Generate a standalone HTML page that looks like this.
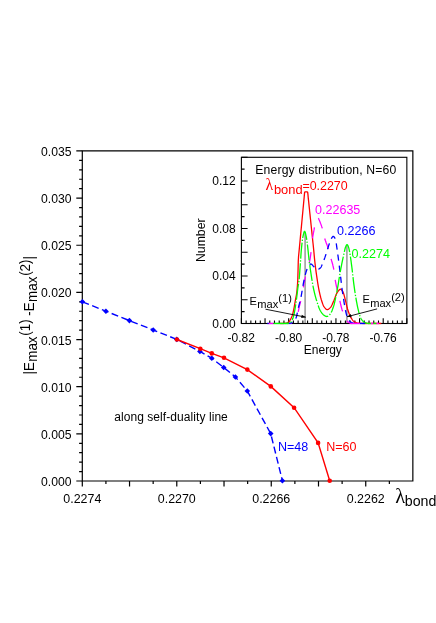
<!DOCTYPE html>
<html><head><meta charset="utf-8"><title>chart</title>
<style>html,body{margin:0;padding:0;background:#fff;}body{width:436px;height:623px;position:relative;overflow:hidden;font-family:"Liberation Sans",sans-serif;}</style>
</head><body>
<svg width="436" height="623" viewBox="0 0 436 623" style="will-change:transform;position:absolute;left:0;top:0;font-family:'Liberation Sans',sans-serif">
<rect width="436" height="623" fill="#fff"/>
<clipPath id="ic"><rect x="241.4" y="157.3" width="165.45000000000002" height="167.2"/></clipPath>
<g clip-path="url(#ic)" fill="none">
<line x1="305.1" y1="232" x2="305.1" y2="323.5" stroke="#989898" stroke-width="1.5"/>
<line x1="346.9" y1="245" x2="346.9" y2="323.5" stroke="#989898" stroke-width="1.5"/>
</g>
<g stroke="#000" stroke-width="1.1" fill="none" stroke-linecap="butt">
<rect x="241.4" y="157.3" width="165.45000000000002" height="166.2"/>
<path d="M241.40,323.5 v-5.2 M246.13,323.5 v-3.0 M250.85,323.5 v-3.0 M255.58,323.5 v-3.0 M260.31,323.5 v-3.0 M265.04,323.5 v-5.2 M269.76,323.5 v-3.0 M274.49,323.5 v-3.0 M279.22,323.5 v-3.0 M283.94,323.5 v-3.0 M288.67,323.5 v-5.2 M293.40,323.5 v-3.0 M298.13,323.5 v-3.0 M302.85,323.5 v-3.0 M307.58,323.5 v-3.0 M312.31,323.5 v-5.2 M317.03,323.5 v-3.0 M321.76,323.5 v-3.0 M326.49,323.5 v-3.0 M331.22,323.5 v-3.0 M335.94,323.5 v-5.2 M340.67,323.5 v-3.0 M345.40,323.5 v-3.0 M350.12,323.5 v-3.0 M354.85,323.5 v-3.0 M359.58,323.5 v-5.2 M364.31,323.5 v-3.0 M369.03,323.5 v-3.0 M373.76,323.5 v-3.0 M378.49,323.5 v-3.0 M383.21,323.5 v-5.2 M387.94,323.5 v-3.0 M392.67,323.5 v-3.0 M397.40,323.5 v-3.0 M402.12,323.5 v-3.0 M406.85,323.5 v-5.2 M241.4,323.50 h6.2 M241.4,311.63 h3.2 M241.4,299.76 h6.2 M241.4,287.89 h3.2 M241.4,276.01 h6.2 M241.4,264.14 h3.2 M241.4,252.27 h6.2 M241.4,240.40 h3.2 M241.4,228.53 h6.2 M241.4,216.66 h3.2 M241.4,204.79 h6.2 M241.4,192.91 h3.2 M241.4,181.04 h6.2 M241.4,169.17 h3.2 M241.4,157.30 h6.2"/>
</g>
<g clip-path="url(#ic)" fill="none">
<path d="M280.00,323.50 L280.25,323.50 L280.51,323.50 L280.76,323.50 L281.02,323.50 L281.27,323.50 L281.52,323.50 L281.78,323.50 L282.03,323.50 L282.28,323.50 L282.54,323.50 L282.79,323.50 L283.05,323.50 L283.30,323.50 L283.55,323.50 L283.81,323.49 L284.06,323.48 L284.32,323.47 L284.57,323.44 L284.82,323.41 L285.08,323.38 L285.33,323.34 L285.59,323.30 L285.84,323.26 L286.09,323.21 L286.35,323.15 L286.60,323.10 L286.85,323.03 L287.11,322.93 L287.36,322.81 L287.62,322.67 L287.87,322.51 L288.12,322.33 L288.38,322.14 L288.63,321.93 L288.89,321.71 L289.14,321.46 L289.39,321.15 L289.65,320.80 L289.90,320.40 L290.16,319.97 L290.41,319.52 L290.66,319.06 L290.92,318.58 L291.17,318.07 L291.42,317.53 L291.68,316.95 L291.93,316.32 L292.19,315.63 L292.44,314.88 L292.69,314.02 L292.95,313.05 L293.20,311.98 L293.46,310.84 L293.71,309.63 L293.96,308.39 L294.22,307.11 L294.47,305.72 L294.73,304.20 L294.98,302.62 L295.23,301.05 L295.49,299.57 L295.74,298.28 L295.99,297.12 L296.25,295.85 L296.50,294.28 L296.76,292.39 L297.01,290.18 L297.26,287.48 L297.52,284.09 L297.77,279.83 L298.03,271.01 L298.28,260.93 L298.53,256.81 L298.79,253.96 L299.04,251.54 L299.30,248.85 L299.55,246.12 L299.80,243.45 L300.06,240.81 L300.31,238.13 L300.56,235.43 L300.82,232.74 L301.07,230.05 L301.33,227.36 L301.58,224.67 L301.83,221.98 L302.09,219.29 L302.34,216.60 L302.60,213.91 L302.85,211.21 L303.10,208.52 L303.36,205.82 L303.61,203.08 L303.87,200.36 L304.12,197.72 L304.37,194.86 L304.63,192.33 L304.88,191.98 L305.13,191.90 L305.39,191.90 L305.64,191.90 L305.90,191.90 L306.15,191.90 L306.40,191.90 L306.66,191.90 L306.91,191.90 L307.17,191.90 L307.42,191.99 L307.67,192.29 L307.93,194.42 L308.18,197.22 L308.44,199.58 L308.69,201.99 L308.94,204.43 L309.20,206.87 L309.45,209.30 L309.70,211.74 L309.96,214.19 L310.21,216.62 L310.47,219.03 L310.72,221.44 L310.97,223.85 L311.23,226.27 L311.48,228.70 L311.74,231.14 L311.99,233.58 L312.24,236.01 L312.50,238.43 L312.75,240.83 L313.01,243.24 L313.26,245.66 L313.51,248.07 L313.77,250.58 L314.02,253.31 L314.27,256.13 L314.53,258.83 L314.78,261.25 L315.04,263.50 L315.29,265.65 L315.54,267.71 L315.80,269.69 L316.05,271.60 L316.31,273.44 L316.56,275.22 L316.81,276.96 L317.07,278.67 L317.32,280.35 L317.57,281.98 L317.83,283.57 L318.08,285.10 L318.34,286.58 L318.59,287.99 L318.84,289.33 L319.10,290.59 L319.35,291.80 L319.61,292.96 L319.86,294.09 L320.11,295.18 L320.37,296.22 L320.62,297.22 L320.88,298.17 L321.13,299.07 L321.38,299.92 L321.64,300.71 L321.89,301.49 L322.14,302.25 L322.40,303.00 L322.65,303.71 L322.91,304.39 L323.16,305.02 L323.41,305.60 L323.67,306.11 L323.92,306.54 L324.18,306.90 L324.43,307.23 L324.68,307.56 L324.94,307.88 L325.19,308.18 L325.45,308.46 L325.70,308.73 L325.95,308.96 L326.21,309.17 L326.46,309.34 L326.71,309.47 L326.97,309.56 L327.22,309.60 L327.48,309.59 L327.73,309.54 L327.98,309.45 L328.24,309.33 L328.49,309.18 L328.75,309.01 L329.00,308.81 L329.25,308.60 L329.51,308.37 L329.76,308.13 L330.02,307.88 L330.27,307.63 L330.52,307.36 L330.78,307.02 L331.03,306.64 L331.28,306.20 L331.54,305.73 L331.79,305.23 L332.05,304.70 L332.30,304.15 L332.55,303.59 L332.81,303.02 L333.06,302.45 L333.32,301.90 L333.57,301.35 L333.82,300.77 L334.08,300.15 L334.33,299.50 L334.59,298.82 L334.84,298.13 L335.09,297.43 L335.35,296.74 L335.60,296.06 L335.85,295.39 L336.11,294.76 L336.36,294.17 L336.62,293.62 L336.87,293.13 L337.12,292.71 L337.38,292.34 L337.63,291.97 L337.89,291.60 L338.14,291.24 L338.39,290.89 L338.65,290.56 L338.90,290.25 L339.16,289.97 L339.41,289.72 L339.66,289.52 L339.92,289.36 L340.17,289.25 L340.42,289.20 L340.68,289.22 L340.93,289.32 L341.19,289.49 L341.44,289.72 L341.69,290.00 L341.95,290.33 L342.20,290.69 L342.46,291.08 L342.71,291.49 L342.96,291.91 L343.22,292.44 L343.47,293.11 L343.73,293.89 L343.98,294.76 L344.23,295.69 L344.49,296.67 L344.74,297.66 L344.99,298.65 L345.25,299.61 L345.50,300.57 L345.76,301.59 L346.01,302.67 L346.26,303.77 L346.52,304.89 L346.77,305.98 L347.03,307.04 L347.28,308.04 L347.53,308.95 L347.79,309.77 L348.04,310.55 L348.29,311.31 L348.55,312.05 L348.80,312.76 L349.06,313.45 L349.31,314.11 L349.56,314.74 L349.82,315.34 L350.07,315.91 L350.33,316.44 L350.58,316.93 L350.83,317.39 L351.09,317.81 L351.34,318.22 L351.60,318.62 L351.85,319.00 L352.10,319.37 L352.36,319.72 L352.61,320.05 L352.86,320.36 L353.12,320.65 L353.37,320.91 L353.63,321.14 L353.88,321.35 L354.13,321.52 L354.39,321.68 L354.64,321.84 L354.90,321.99 L355.15,322.14 L355.40,322.28 L355.66,322.41 L355.91,322.54 L356.17,322.65 L356.42,322.76 L356.67,322.86 L356.93,322.95 L357.18,323.02 L357.43,323.09 L357.69,323.14 L357.94,323.18 L358.20,323.21 L358.45,323.23 L358.70,323.26 L358.96,323.28 L359.21,323.30 L359.47,323.32 L359.72,323.34 L359.97,323.36 L360.23,323.37 L360.48,323.39 L360.74,323.40 L360.99,323.42 L361.24,323.43 L361.50,323.44 L361.75,323.45 L362.00,323.46 L362.26,323.47 L362.51,323.48 L362.77,323.49 L363.02,323.49 L363.27,323.49 L363.53,323.50 L363.78,323.50 L364.04,323.50 L364.29,323.50 L364.54,323.50 L364.80,323.50 L365.05,323.50 L365.31,323.50 L365.56,323.50 L365.81,323.50 L366.07,323.50 L366.32,323.50 L366.57,323.50 L366.83,323.50 L367.08,323.50 L367.34,323.50 L367.59,323.50 L367.84,323.50 L368.10,323.50 L368.35,323.50 L368.61,323.50 L368.86,323.50 L369.11,323.50 L369.37,323.50 L369.62,323.50 L369.88,323.50 L370.13,323.50 L370.38,323.50 L370.64,323.50 L370.89,323.50 L371.14,323.50 L371.40,323.50 L371.65,323.50 L371.91,323.50 L372.16,323.50 L372.41,323.50 L372.67,323.50 L372.92,323.50 L373.18,323.50 L373.43,323.50 L373.68,323.50 L373.94,323.50 L374.19,323.50 L374.45,323.50 L374.70,323.50 L374.95,323.50 L375.21,323.50 L375.46,323.50 L375.71,323.50 L375.97,323.50 L376.22,323.50 L376.48,323.50 L376.73,323.50 L376.98,323.50 L377.24,323.50 L377.49,323.50 L377.75,323.50 L378.00,323.50 L378.25,323.50 L378.51,323.50 L378.76,323.50 L379.02,323.50 L379.27,323.50 L379.52,323.50 L379.78,323.50 L380.03,323.50 L380.28,323.50 L380.54,323.50 L380.79,323.50 L381.05,323.50 L381.30,323.50" stroke="#ff0000" stroke-width="1.3" stroke-linejoin="miter"/>
<path d="M289.50,323.50 L289.57,323.50 L289.64,323.50 L289.70,323.50 L289.77,323.50 L289.84,323.49 L289.91,323.49 L289.98,323.49 L290.04,323.48 L290.11,323.48 L290.18,323.47 L290.25,323.47 L290.32,323.46 L290.38,323.45 L290.45,323.45 L290.52,323.44 L290.59,323.43 L290.65,323.42 L290.72,323.42 L290.79,323.41 L290.86,323.40 L290.93,323.39 L290.99,323.38 L291.06,323.37 L291.13,323.36 L291.20,323.35 L291.27,323.33 L291.33,323.32 L291.40,323.31 L291.47,323.30 L291.54,323.28 L291.61,323.27 L291.67,323.26 L291.74,323.24 L291.81,323.23 L291.88,323.22 L291.95,323.20 L292.01,323.19 L292.08,323.17 L292.15,323.16 L292.22,323.14 L292.28,323.13 L292.35,323.11 L292.42,323.10 L292.49,323.08 L292.56,323.06 L292.62,323.04 L292.69,323.01 L292.76,322.99 L292.83,322.96 L292.90,322.93 L292.96,322.90 L293.03,322.86 L293.10,322.83 L293.17,322.79 L293.24,322.75 L293.30,322.71 L293.37,322.67 L293.44,322.63 L293.51,322.59 L293.58,322.54 L293.64,322.50 L293.71,322.45 L293.78,322.40 L293.85,322.35 L293.91,322.30 L293.98,322.25 L294.05,322.20 L294.12,322.14 L294.19,322.09 L294.25,322.04 L294.32,321.98 L294.39,321.93 L294.46,321.87 L294.53,321.81 L294.59,321.75 L294.66,321.68 L294.73,321.62 L294.80,321.55 L294.87,321.48 L294.93,321.41 L295.00,321.33 L295.07,321.26 L295.14,321.18 L295.21,321.10 L295.27,321.02 L295.34,320.93 L295.41,320.84 L295.48,320.75 L295.54,320.66 L295.61,320.56 L295.68,320.46 L295.75,320.36 L295.82,320.25 L295.88,320.14 L295.95,320.03 L296.02,319.92 L296.09,319.80 L296.16,319.68 L296.22,319.55 L296.29,319.42 L296.36,319.29 L296.43,319.16 L296.50,319.02 L296.56,318.88 L296.63,318.73 L296.70,318.56 L296.77,318.38 L296.84,318.18 L296.90,317.96 L296.97,317.72 L297.04,317.48 L297.11,317.22 L297.17,316.94 L297.24,316.66 L297.31,316.37 L297.38,316.08 L297.45,315.77 L297.51,315.46 L297.58,315.15 L297.65,314.84 L297.72,314.53 L297.79,314.22 L297.85,313.91 L297.92,313.60 L297.99,313.28 L298.06,312.95 L298.13,312.60 L298.19,312.25 L298.26,311.88 L298.33,311.51 L298.40,311.14 L298.47,310.77 L298.53,310.40 L298.60,310.03 L298.67,309.66 L298.74,309.31 L298.81,308.96 L298.87,308.63 L298.94,308.31 L299.01,307.99 L299.08,307.69 L299.14,307.38 L299.21,307.08 L299.28,306.79 L299.35,306.50 L299.42,306.21 L299.48,305.92 L299.55,305.64 L299.62,305.37 L299.69,305.09 L299.76,304.82 L299.82,304.55 L299.89,304.28 L299.96,304.01 L300.03,303.74 L300.10,303.48 L300.16,303.21 L300.23,302.94 L300.30,302.68 L300.37,302.41 L300.44,302.14 L300.50,301.87 L300.57,301.60 L300.64,301.33 L300.71,301.06 L300.77,300.78 L300.84,300.50 L300.91,300.22 L300.98,299.93 L301.05,299.64 L301.11,299.35 L301.18,299.05 L301.25,298.75 L301.32,298.45 L301.39,298.14 L301.45,297.82 L301.52,297.50 L301.59,297.17 L301.66,296.83 L301.73,296.49 L301.79,296.13 L301.86,295.78 L301.93,295.42 L302.00,295.05 L302.07,294.68 L302.13,294.30 L302.20,293.92 L302.27,293.53 L302.34,293.14 L302.40,292.75 L302.47,292.36 L302.54,291.96 L302.61,291.56 L302.68,291.16 L302.74,290.76 L302.81,290.35 L302.88,289.95 L302.95,289.54 L303.02,289.14 L303.08,288.74 L303.15,288.33 L303.22,287.93 L303.29,287.53 L303.36,287.13 L303.42,286.73 L303.49,286.34 L303.56,285.95 L303.63,285.56 L303.70,285.18 L303.76,284.80 L303.83,284.42 L303.90,284.05 L303.97,283.69 L304.03,283.33 L304.10,282.97 L304.17,282.62 L304.24,282.28 L304.31,281.95 L304.37,281.62 L304.44,281.30 L304.51,280.98 L304.58,280.67 L304.65,280.36 L304.71,280.05 L304.78,279.75 L304.85,279.44 L304.92,279.14 L304.99,278.84 L305.05,278.55 L305.12,278.26 L305.19,277.97 L305.26,277.68 L305.33,277.39 L305.39,277.11 L305.46,276.82 L305.53,276.54 L305.60,276.26 L305.66,275.99 L305.73,275.71 L305.80,275.44 L305.87,275.16 L305.94,274.89 L306.00,274.62 L306.07,274.35 L306.14,274.09 L306.21,273.82 L306.28,273.56 L306.34,273.29 L306.41,273.03 L306.48,272.76 L306.55,272.50 L306.62,272.24 L306.68,271.98 L306.75,271.72 L306.82,271.46 L306.89,271.20 L306.96,270.94 L307.02,270.68 L307.09,270.42 L307.16,270.16 L307.23,269.90 L307.29,269.64 L307.36,269.39 L307.43,269.15 L307.50,268.91 L307.57,268.67 L307.63,268.44 L307.70,268.22 L307.77,267.99 L307.84,267.77 L307.91,267.55 L307.97,267.33 L308.04,267.11 L308.11,266.90 L308.18,266.68 L308.25,266.47 L308.31,266.25 L308.38,266.03 L308.45,265.81 L308.52,265.59 L308.59,265.37 L308.65,265.15 L308.72,264.92 L308.79,264.68 L308.86,264.45 L308.93,264.21 L308.99,263.96 L309.06,263.71 L309.13,263.45 L309.20,263.19 L309.26,262.92 L309.33,262.64 L309.40,262.36 L309.47,262.06 L309.54,261.76 L309.60,261.45 L309.67,261.13 L309.74,260.80 L309.81,260.46 L309.88,260.09 L309.94,259.72 L310.01,259.33 L310.08,258.92 L310.15,258.50 L310.22,258.07 L310.28,257.63 L310.35,257.17 L310.42,256.71 L310.49,256.23 L310.56,255.75 L310.62,255.25 L310.69,254.75 L310.76,254.24 L310.83,253.73 L310.89,253.21 L310.96,252.68 L311.03,252.15 L311.10,251.61 L311.17,251.07 L311.23,250.53 L311.30,249.98 L311.37,249.42 L311.44,248.82 L311.51,248.19 L311.57,247.53 L311.64,246.86 L311.71,246.17 L311.78,245.47 L311.85,244.76 L311.91,244.05 L311.98,243.35 L312.05,242.65 L312.12,241.97 L312.19,241.31 L312.25,240.67 L312.32,240.05 L312.39,239.47 L312.46,238.92 L312.52,238.42 L312.59,237.94 L312.66,237.47 L312.73,237.02 L312.80,236.58 L312.86,236.15 L312.93,235.74 L313.00,235.33 L313.07,234.94 L313.14,234.55 L313.20,234.17 L313.27,233.80 L313.34,233.43 L313.41,233.07 L313.48,232.71 L313.54,232.36 L313.61,232.00 L313.68,231.64 L313.75,231.29 L313.82,230.93 L313.88,230.57 L313.95,230.20 L314.02,229.83 L314.09,229.45 L314.15,229.07 L314.22,228.67 L314.29,228.27 L314.36,227.86 L314.43,227.43 L314.49,226.99 L314.56,226.53 L314.63,226.05 L314.70,225.57 L314.77,225.07 L314.83,224.57 L314.90,224.07 L314.97,223.57 L315.04,223.07 L315.11,222.58 L315.17,222.10 L315.24,221.63 L315.31,221.18 L315.38,220.75 L315.45,220.34 L315.51,219.95 L315.58,219.59 L315.65,219.26 L315.72,218.94 L315.78,218.62 L315.85,218.31 L315.92,218.01 L315.99,217.72 L316.06,217.44 L316.12,217.17 L316.19,216.91 L316.26,216.66 L316.33,216.42 L316.40,216.19 L316.46,215.98 L316.53,215.78 L316.60,215.60" stroke="#ff00ff" stroke-width="1.3" stroke-linejoin="round" stroke-dasharray="11 14" stroke-dashoffset="8.65"/>
<path d="M316.60,215.60 L316.69,215.64 L316.78,215.68 L316.87,215.74 L316.95,215.81 L317.04,215.89 L317.13,215.98 L317.22,216.07 L317.31,216.17 L317.40,216.28 L317.49,216.38 L317.58,216.50 L317.66,216.64 L317.75,216.80 L317.84,216.97 L317.93,217.15 L318.02,217.34 L318.11,217.54 L318.20,217.74 L318.29,217.94 L318.37,218.14 L318.46,218.34 L318.55,218.54 L318.64,218.73 L318.73,218.93 L318.82,219.13 L318.91,219.33 L319.00,219.53 L319.08,219.74 L319.17,219.94 L319.26,220.14 L319.35,220.35 L319.44,220.56 L319.53,220.77 L319.62,220.98 L319.71,221.19 L319.79,221.40 L319.88,221.62 L319.97,221.84 L320.06,222.06 L320.15,222.28 L320.24,222.50 L320.33,222.72 L320.42,222.95 L320.50,223.18 L320.59,223.41 L320.68,223.64 L320.77,223.88 L320.86,224.12 L320.95,224.36 L321.04,224.60 L321.12,224.85 L321.21,225.10 L321.30,225.35 L321.39,225.60 L321.48,225.86 L321.57,226.12 L321.66,226.38 L321.75,226.64 L321.83,226.91 L321.92,227.18 L322.01,227.46 L322.10,227.74 L322.19,228.02 L322.28,228.30 L322.37,228.59 L322.46,228.89 L322.54,229.20 L322.63,229.52 L322.72,229.86 L322.81,230.21 L322.90,230.57 L322.99,230.94 L323.08,231.32 L323.17,231.70 L323.25,232.10 L323.34,232.49 L323.43,232.89 L323.52,233.30 L323.61,233.70 L323.70,234.11 L323.79,234.52 L323.88,234.92 L323.96,235.32 L324.05,235.71 L324.14,236.10 L324.23,236.49 L324.32,236.86 L324.41,237.23 L324.50,237.58 L324.58,237.92 L324.67,238.25 L324.76,238.57 L324.85,238.87 L324.94,239.17 L325.03,239.46 L325.12,239.74 L325.21,240.01 L325.29,240.29 L325.38,240.55 L325.47,240.81 L325.56,241.07 L325.65,241.32 L325.74,241.57 L325.83,241.81 L325.92,242.06 L326.00,242.30 L326.09,242.53 L326.18,242.77 L326.27,243.00 L326.36,243.23 L326.45,243.46 L326.54,243.68 L326.63,243.91 L326.71,244.14 L326.80,244.36 L326.89,244.59 L326.98,244.82 L327.07,245.04 L327.16,245.27 L327.25,245.50 L327.34,245.74 L327.42,245.97 L327.51,246.21 L327.60,246.45 L327.69,246.69 L327.78,246.94 L327.87,247.19 L327.96,247.44 L328.05,247.70 L328.13,247.96 L328.22,248.23 L328.31,248.50 L328.40,248.78 L328.49,249.06 L328.58,249.35 L328.67,249.65 L328.75,249.95 L328.84,250.26 L328.93,250.57 L329.02,250.89 L329.11,251.21 L329.20,251.54 L329.29,251.87 L329.38,252.20 L329.46,252.54 L329.55,252.87 L329.64,253.22 L329.73,253.56 L329.82,253.90 L329.91,254.25 L330.00,254.60 L330.09,254.95 L330.17,255.29 L330.26,255.64 L330.35,255.99 L330.44,256.34 L330.53,256.69 L330.62,257.03 L330.71,257.38 L330.80,257.72 L330.88,258.06 L330.97,258.40 L331.06,258.73 L331.15,259.06 L331.24,259.38 L331.33,259.70 L331.42,260.01 L331.51,260.32 L331.59,260.63 L331.68,260.94 L331.77,261.24 L331.86,261.55 L331.95,261.85 L332.04,262.16 L332.13,262.46 L332.22,262.78 L332.30,263.09 L332.39,263.41 L332.48,263.73 L332.57,264.06 L332.66,264.39 L332.75,264.73 L332.84,265.08 L332.92,265.44 L333.01,265.80 L333.10,266.18 L333.19,266.56 L333.28,266.96 L333.37,267.37 L333.46,267.79 L333.55,268.23 L333.63,268.70 L333.72,269.21 L333.81,269.74 L333.90,270.31 L333.99,270.90 L334.08,271.50 L334.17,272.13 L334.26,272.77 L334.34,273.43 L334.43,274.09 L334.52,274.76 L334.61,275.43 L334.70,276.10 L334.79,276.77 L334.88,277.43 L334.97,278.08 L335.05,278.72 L335.14,279.35 L335.23,279.95 L335.32,280.54 L335.41,281.10 L335.50,281.63 L335.59,282.13 L335.68,282.60 L335.76,283.07 L335.85,283.53 L335.94,283.97 L336.03,284.42 L336.12,284.85 L336.21,285.28 L336.30,285.70 L336.38,286.11 L336.47,286.52 L336.56,286.92 L336.65,287.31 L336.74,287.70 L336.83,288.09 L336.92,288.47 L337.01,288.85 L337.09,289.22 L337.18,289.59 L337.27,289.96 L337.36,290.32 L337.45,290.69 L337.54,291.05 L337.63,291.41 L337.72,291.76 L337.80,292.12 L337.89,292.48 L337.98,292.83 L338.07,293.19 L338.16,293.55 L338.25,293.91 L338.34,294.26 L338.43,294.63 L338.51,294.99 L338.60,295.35 L338.69,295.72 L338.78,296.09 L338.87,296.47 L338.96,296.85 L339.05,297.23 L339.14,297.61 L339.22,298.00 L339.31,298.39 L339.40,298.78 L339.49,299.17 L339.58,299.57 L339.67,299.96 L339.76,300.35 L339.85,300.75 L339.93,301.14 L340.02,301.54 L340.11,301.93 L340.20,302.32 L340.29,302.72 L340.38,303.10 L340.47,303.49 L340.55,303.88 L340.64,304.26 L340.73,304.64 L340.82,305.01 L340.91,305.38 L341.00,305.75 L341.09,306.11 L341.18,306.47 L341.26,306.82 L341.35,307.17 L341.44,307.51 L341.53,307.84 L341.62,308.17 L341.71,308.49 L341.80,308.81 L341.89,309.12 L341.97,309.42 L342.06,309.71 L342.15,309.99 L342.24,310.27 L342.33,310.55 L342.42,310.82 L342.51,311.08 L342.60,311.34 L342.68,311.60 L342.77,311.85 L342.86,312.10 L342.95,312.34 L343.04,312.58 L343.13,312.82 L343.22,313.06 L343.31,313.29 L343.39,313.52 L343.48,313.75 L343.57,313.97 L343.66,314.20 L343.75,314.42 L343.84,314.65 L343.93,314.88 L344.02,315.10 L344.10,315.33 L344.19,315.56 L344.28,315.78 L344.37,316.01 L344.46,316.23 L344.55,316.45 L344.64,316.67 L344.72,316.89 L344.81,317.11 L344.90,317.32 L344.99,317.52 L345.08,317.73 L345.17,317.93 L345.26,318.12 L345.35,318.31 L345.43,318.49 L345.52,318.67 L345.61,318.84 L345.70,319.00 L345.79,319.16 L345.88,319.31 L345.97,319.45 L346.06,319.58 L346.14,319.72 L346.23,319.85 L346.32,319.98 L346.41,320.10 L346.50,320.23 L346.59,320.35 L346.68,320.47 L346.77,320.59 L346.85,320.71 L346.94,320.83 L347.03,320.94 L347.12,321.05 L347.21,321.15 L347.30,321.26 L347.39,321.36 L347.48,321.45 L347.56,321.55 L347.65,321.64 L347.74,321.73 L347.83,321.81 L347.92,321.89 L348.01,321.96 L348.10,322.03 L348.18,322.10 L348.27,322.16 L348.36,322.22 L348.45,322.27 L348.54,322.32 L348.63,322.37 L348.72,322.42 L348.81,322.46 L348.89,322.51 L348.98,322.56 L349.07,322.60 L349.16,322.65 L349.25,322.69 L349.34,322.74 L349.43,322.78 L349.52,322.82 L349.60,322.86 L349.69,322.90 L349.78,322.94 L349.87,322.98 L349.96,323.02 L350.05,323.06 L350.14,323.09 L350.23,323.13 L350.31,323.16 L350.40,323.19 L350.49,323.22 L350.58,323.25 L350.67,323.28 L350.76,323.31 L350.85,323.33 L350.94,323.36 L351.02,323.38 L351.11,323.40 L351.20,323.42 L351.29,323.43 L351.38,323.45 L351.47,323.46 L351.56,323.47 L351.65,323.48 L351.73,323.49 L351.82,323.50 L351.91,323.50 L352.00,323.50" stroke="#ff00ff" stroke-width="1.3" stroke-linejoin="round" stroke-dasharray="11 10.4" stroke-dashoffset="18.23"/>
<path d="M287.50,323.50 L287.67,323.50 L287.84,323.49 L288.02,323.49 L288.19,323.48 L288.36,323.47 L288.53,323.45 L288.70,323.44 L288.87,323.42 L289.05,323.40 L289.22,323.37 L289.39,323.35 L289.56,323.32 L289.73,323.30 L289.90,323.27 L290.08,323.24 L290.25,323.21 L290.42,323.17 L290.59,323.14 L290.76,323.11 L290.93,323.07 L291.11,323.03 L291.28,322.97 L291.45,322.91 L291.62,322.84 L291.79,322.77 L291.96,322.68 L292.14,322.59 L292.31,322.50 L292.48,322.40 L292.65,322.30 L292.82,322.19 L292.99,322.07 L293.17,321.95 L293.34,321.82 L293.51,321.67 L293.68,321.51 L293.85,321.33 L294.02,321.13 L294.20,320.92 L294.37,320.70 L294.54,320.47 L294.71,320.23 L294.88,319.98 L295.05,319.72 L295.23,319.44 L295.40,319.15 L295.57,318.84 L295.74,318.50 L295.91,318.13 L296.08,317.73 L296.26,317.30 L296.43,316.82 L296.60,316.30 L296.77,315.65 L296.94,314.82 L297.11,313.86 L297.29,312.86 L297.46,311.86 L297.63,310.94 L297.80,310.14 L297.97,309.37 L298.14,308.64 L298.32,307.93 L298.49,307.24 L298.66,306.57 L298.83,305.91 L299.00,305.25 L299.17,304.61 L299.35,303.97 L299.52,303.32 L299.69,302.67 L299.86,302.01 L300.03,301.34 L300.20,300.65 L300.38,299.94 L300.55,299.20 L300.72,298.44 L300.89,297.64 L301.06,296.80 L301.23,295.91 L301.41,294.98 L301.58,294.01 L301.75,293.01 L301.92,291.98 L302.09,290.94 L302.26,289.90 L302.44,288.85 L302.61,287.81 L302.78,286.78 L302.95,285.77 L303.12,284.79 L303.29,283.85 L303.47,282.95 L303.64,282.09 L303.81,281.29 L303.98,280.49 L304.15,279.70 L304.32,278.92 L304.50,278.15 L304.67,277.39 L304.84,276.65 L305.01,275.93 L305.18,275.22 L305.35,274.53 L305.53,273.87 L305.70,273.23 L305.87,272.61 L306.04,272.02 L306.21,271.46 L306.38,270.94 L306.56,270.44 L306.73,269.96 L306.90,269.49 L307.07,269.04 L307.24,268.61 L307.41,268.20 L307.59,267.81 L307.76,267.46 L307.93,267.14 L308.10,266.85 L308.27,266.59 L308.44,266.35 L308.62,266.10 L308.79,265.85 L308.96,265.62 L309.13,265.38 L309.30,265.16 L309.47,264.95 L309.65,264.76 L309.82,264.58 L309.99,264.42 L310.16,264.28 L310.33,264.17 L310.51,264.09 L310.68,264.03 L310.85,264.00 L311.02,264.01 L311.19,264.05 L311.36,264.12 L311.54,264.21 L311.71,264.33 L311.88,264.48 L312.05,264.64 L312.22,264.81 L312.39,265.00 L312.57,265.19 L312.74,265.40 L312.91,265.60 L313.08,265.81 L313.25,266.01 L313.42,266.21 L313.60,266.40 L313.77,266.58 L313.94,266.75 L314.11,266.90 L314.28,267.06 L314.45,267.24 L314.63,267.42 L314.80,267.61 L314.97,267.80 L315.14,268.00 L315.31,268.19 L315.48,268.38 L315.66,268.56 L315.83,268.73 L316.00,268.89 L316.17,269.04 L316.34,269.17 L316.51,269.28 L316.69,269.37 L316.86,269.44 L317.03,269.49 L317.20,269.50 L317.37,269.49 L317.54,269.48 L317.72,269.45 L317.89,269.41 L318.06,269.36 L318.23,269.30 L318.40,269.23 L318.57,269.15 L318.75,269.06 L318.92,268.97 L319.09,268.87 L319.26,268.76 L319.43,268.65 L319.60,268.53 L319.78,268.40 L319.95,268.27 L320.12,268.14 L320.29,268.01 L320.46,267.85 L320.63,267.64 L320.81,267.40 L320.98,267.12 L321.15,266.80 L321.32,266.46 L321.49,266.09 L321.66,265.71 L321.84,265.31 L322.01,264.90 L322.18,264.48 L322.35,264.07 L322.52,263.65 L322.69,263.24 L322.87,262.85 L323.04,262.44 L323.21,262.03 L323.38,261.60 L323.55,261.16 L323.72,260.71 L323.90,260.25 L324.07,259.79 L324.24,259.32 L324.41,258.84 L324.58,258.36 L324.75,257.87 L324.93,257.38 L325.10,256.88 L325.27,256.39 L325.44,255.89 L325.61,255.37 L325.78,254.85 L325.96,254.31 L326.13,253.77 L326.30,253.22 L326.47,252.66 L326.64,252.10 L326.81,251.54 L326.99,250.97 L327.16,250.41 L327.33,249.85 L327.50,249.29 L327.67,248.74 L327.84,248.20 L328.02,247.66 L328.19,247.13 L328.36,246.62 L328.53,246.11 L328.70,245.59 L328.87,245.06 L329.05,244.52 L329.22,243.99 L329.39,243.46 L329.56,242.93 L329.73,242.42 L329.90,241.92 L330.08,241.44 L330.25,240.97 L330.42,240.54 L330.59,240.13 L330.76,239.76 L330.93,239.42 L331.11,239.11 L331.28,238.80 L331.45,238.48 L331.62,238.17 L331.79,237.87 L331.96,237.58 L332.14,237.31 L332.31,237.06 L332.48,236.85 L332.65,236.67 L332.82,236.53 L332.99,236.44 L333.17,236.40 L333.34,236.41 L333.51,236.47 L333.68,236.56 L333.85,236.69 L334.03,236.85 L334.20,237.04 L334.37,237.25 L334.54,237.49 L334.71,237.76 L334.88,238.04 L335.06,238.34 L335.23,238.65 L335.40,239.10 L335.57,239.72 L335.74,240.49 L335.91,241.39 L336.09,242.40 L336.26,243.50 L336.43,244.65 L336.60,245.85 L336.77,247.06 L336.94,248.27 L337.12,249.44 L337.29,250.58 L337.46,251.76 L337.63,252.99 L337.80,254.27 L337.97,255.58 L338.15,256.92 L338.32,258.28 L338.49,259.64 L338.66,261.01 L338.83,262.37 L339.00,263.71 L339.18,265.07 L339.35,266.43 L339.52,267.80 L339.69,269.18 L339.86,270.57 L340.03,271.96 L340.21,273.37 L340.38,274.78 L340.55,276.21 L340.72,277.67 L340.89,279.18 L341.06,280.70 L341.24,282.23 L341.41,283.74 L341.58,285.22 L341.75,286.65 L341.92,288.01 L342.09,289.29 L342.27,290.52 L342.44,291.71 L342.61,292.87 L342.78,294.00 L342.95,295.10 L343.12,296.19 L343.30,297.27 L343.47,298.34 L343.64,299.42 L343.81,300.50 L343.98,301.61 L344.15,302.73 L344.33,303.84 L344.50,304.93 L344.67,306.00 L344.84,307.03 L345.01,308.01 L345.18,308.92 L345.36,309.77 L345.53,310.58 L345.70,311.38 L345.87,312.14 L346.04,312.88 L346.21,313.58 L346.39,314.24 L346.56,314.85 L346.73,315.40 L346.90,315.90 L347.07,316.36 L347.24,316.81 L347.42,317.25 L347.59,317.66 L347.76,318.06 L347.93,318.45 L348.10,318.81 L348.27,319.15 L348.45,319.47 L348.62,319.77 L348.79,320.04 L348.96,320.29 L349.13,320.51 L349.30,320.70 L349.48,320.88 L349.65,321.05 L349.82,321.22 L349.99,321.38 L350.16,321.53 L350.33,321.67 L350.51,321.81 L350.68,321.95 L350.85,322.07 L351.02,322.19 L351.19,322.30 L351.36,322.41 L351.54,322.50 L351.71,322.59 L351.88,322.67 L352.05,322.75 L352.22,322.81 L352.39,322.87 L352.57,322.92 L352.74,322.97 L352.91,323.01 L353.08,323.06 L353.25,323.10 L353.42,323.14 L353.60,323.18 L353.77,323.22 L353.94,323.26 L354.11,323.29 L354.28,323.33 L354.45,323.36 L354.63,323.39 L354.80,323.41 L354.97,323.43 L355.14,323.45 L355.31,323.47 L355.48,323.48 L355.66,323.49 L355.83,323.50 L356.00,323.50" stroke="#0000ff" stroke-width="1.3" stroke-linejoin="round" stroke-dasharray="6.2 5.0" stroke-dashoffset="0.97"/>
<path d="M285.50,323.50 L285.71,323.50 L285.92,323.49 L286.12,323.48 L286.33,323.46 L286.54,323.44 L286.75,323.42 L286.96,323.40 L287.16,323.37 L287.37,323.34 L287.58,323.30 L287.79,323.27 L288.00,323.24 L288.20,323.20 L288.41,323.16 L288.62,323.11 L288.83,323.06 L289.04,322.99 L289.24,322.92 L289.45,322.84 L289.66,322.75 L289.87,322.65 L290.08,322.55 L290.28,322.43 L290.49,322.30 L290.70,322.15 L290.91,321.95 L291.12,321.71 L291.32,321.42 L291.53,321.11 L291.74,320.76 L291.95,320.39 L292.16,319.99 L292.36,319.57 L292.57,319.12 L292.78,318.59 L292.99,317.99 L293.20,317.32 L293.40,316.60 L293.61,315.83 L293.82,315.02 L294.03,314.18 L294.24,313.25 L294.44,312.22 L294.65,311.10 L294.86,309.91 L295.07,308.67 L295.28,307.39 L295.48,306.09 L295.69,304.76 L295.90,303.36 L296.11,301.89 L296.32,300.37 L296.53,298.82 L296.73,297.25 L296.94,295.58 L297.15,293.82 L297.36,292.05 L297.57,290.32 L297.77,288.70 L297.98,287.26 L298.19,285.98 L298.40,284.76 L298.61,283.49 L298.81,282.08 L299.02,280.41 L299.23,278.35 L299.44,275.92 L299.65,273.24 L299.85,270.39 L300.06,267.51 L300.27,264.70 L300.48,261.88 L300.69,258.85 L300.89,255.77 L301.10,252.81 L301.31,250.10 L301.52,247.83 L301.73,245.82 L301.93,243.91 L302.14,242.13 L302.35,240.49 L302.56,239.01 L302.77,237.71 L302.97,236.62 L303.18,235.66 L303.39,234.70 L303.60,233.79 L303.81,232.96 L304.01,232.26 L304.22,231.72 L304.43,231.39 L304.64,231.30 L304.85,231.49 L305.05,231.91 L305.26,232.51 L305.47,233.27 L305.68,234.14 L305.89,235.07 L306.09,236.02 L306.30,236.98 L306.51,238.13 L306.72,239.47 L306.93,240.95 L307.13,242.54 L307.34,244.22 L307.55,245.93 L307.76,247.66 L307.97,249.44 L308.17,251.40 L308.38,253.47 L308.59,255.54 L308.80,257.53 L309.01,259.35 L309.21,261.03 L309.42,262.66 L309.63,264.23 L309.84,265.75 L310.05,267.23 L310.25,268.67 L310.46,270.09 L310.67,271.48 L310.88,272.86 L311.09,274.23 L311.29,275.59 L311.50,276.95 L311.71,278.29 L311.92,279.61 L312.13,280.91 L312.33,282.18 L312.54,283.41 L312.75,284.60 L312.96,285.75 L313.17,286.84 L313.37,287.88 L313.58,288.87 L313.79,289.83 L314.00,290.76 L314.21,291.67 L314.41,292.56 L314.62,293.42 L314.83,294.26 L315.04,295.08 L315.25,295.88 L315.45,296.66 L315.66,297.41 L315.87,298.15 L316.08,298.87 L316.29,299.57 L316.49,300.26 L316.70,300.93 L316.91,301.60 L317.12,302.26 L317.33,302.92 L317.54,303.57 L317.74,304.22 L317.95,304.85 L318.16,305.47 L318.37,306.07 L318.58,306.65 L318.78,307.22 L318.99,307.77 L319.20,308.29 L319.41,308.79 L319.62,309.26 L319.82,309.70 L320.03,310.11 L320.24,310.50 L320.45,310.85 L320.66,311.19 L320.86,311.53 L321.07,311.86 L321.28,312.17 L321.49,312.48 L321.70,312.78 L321.90,313.07 L322.11,313.34 L322.32,313.60 L322.53,313.86 L322.74,314.09 L322.94,314.32 L323.15,314.53 L323.36,314.73 L323.57,314.91 L323.78,315.07 L323.98,315.22 L324.19,315.36 L324.40,315.49 L324.61,315.62 L324.82,315.75 L325.02,315.88 L325.23,316.00 L325.44,316.11 L325.65,316.21 L325.86,316.30 L326.06,316.37 L326.27,316.43 L326.48,316.47 L326.69,316.50 L326.90,316.50 L327.10,316.47 L327.31,316.42 L327.52,316.35 L327.73,316.25 L327.94,316.14 L328.14,316.00 L328.35,315.85 L328.56,315.69 L328.77,315.51 L328.98,315.33 L329.18,315.13 L329.39,314.92 L329.60,314.71 L329.81,314.50 L330.02,314.28 L330.22,314.04 L330.43,313.76 L330.64,313.45 L330.85,313.10 L331.06,312.72 L331.26,312.31 L331.47,311.87 L331.68,311.40 L331.89,310.91 L332.10,310.40 L332.30,309.86 L332.51,309.31 L332.72,308.74 L332.93,308.16 L333.14,307.56 L333.34,306.96 L333.55,306.34 L333.76,305.69 L333.97,304.98 L334.18,304.22 L334.38,303.42 L334.59,302.58 L334.80,301.71 L335.01,300.80 L335.22,299.85 L335.42,298.89 L335.63,297.89 L335.84,296.88 L336.05,295.85 L336.26,294.81 L336.46,293.75 L336.67,292.69 L336.88,291.63 L337.09,290.57 L337.30,289.50 L337.51,288.39 L337.71,287.23 L337.92,286.03 L338.13,284.79 L338.34,283.53 L338.55,282.25 L338.75,280.96 L338.96,279.65 L339.17,278.35 L339.38,277.06 L339.59,275.78 L339.79,274.52 L340.00,273.29 L340.21,272.10 L340.42,270.95 L340.63,269.83 L340.83,268.74 L341.04,267.66 L341.25,266.59 L341.46,265.53 L341.67,264.49 L341.87,263.46 L342.08,262.44 L342.29,261.43 L342.50,260.44 L342.71,259.45 L342.91,258.48 L343.12,257.52 L343.33,256.57 L343.54,255.63 L343.75,254.70 L343.95,253.74 L344.16,252.75 L344.37,251.76 L344.58,250.79 L344.79,249.85 L344.99,248.98 L345.20,248.19 L345.41,247.51 L345.62,246.96 L345.83,246.46 L346.03,245.96 L346.24,245.50 L346.45,245.11 L346.66,244.81 L346.87,244.63 L347.07,244.61 L347.28,244.73 L347.49,244.96 L347.70,245.28 L347.91,245.67 L348.11,246.10 L348.32,246.55 L348.53,247.11 L348.74,247.84 L348.95,248.70 L349.15,249.66 L349.36,250.70 L349.57,251.79 L349.78,252.89 L349.99,254.02 L350.19,255.26 L350.40,256.59 L350.61,257.99 L350.82,259.45 L351.03,260.95 L351.23,262.49 L351.44,264.06 L351.65,265.63 L351.86,267.22 L352.07,268.91 L352.27,270.68 L352.48,272.49 L352.69,274.34 L352.90,276.20 L353.11,278.05 L353.31,279.87 L353.52,281.64 L353.73,283.34 L353.94,284.95 L354.15,286.46 L354.35,287.95 L354.56,289.41 L354.77,290.84 L354.98,292.24 L355.19,293.61 L355.39,294.95 L355.60,296.25 L355.81,297.51 L356.02,298.73 L356.23,299.91 L356.43,301.05 L356.64,302.15 L356.85,303.24 L357.06,304.30 L357.27,305.34 L357.47,306.35 L357.68,307.33 L357.89,308.28 L358.10,309.20 L358.31,310.08 L358.52,310.92 L358.72,311.71 L358.93,312.46 L359.14,313.17 L359.35,313.87 L359.56,314.55 L359.76,315.22 L359.97,315.86 L360.18,316.47 L360.39,317.04 L360.60,317.58 L360.80,318.06 L361.01,318.50 L361.22,318.87 L361.43,319.19 L361.64,319.50 L361.84,319.79 L362.05,320.07 L362.26,320.34 L362.47,320.59 L362.68,320.83 L362.88,321.06 L363.09,321.27 L363.30,321.47 L363.51,321.65 L363.72,321.81 L363.92,321.96 L364.13,322.10 L364.34,322.22 L364.55,322.32 L364.76,322.42 L364.96,322.52 L365.17,322.61 L365.38,322.70 L365.59,322.79 L365.80,322.88 L366.00,322.96 L366.21,323.04 L366.42,323.11 L366.63,323.18 L366.84,323.24 L367.04,323.30 L367.25,323.35 L367.46,323.39 L367.67,323.43 L367.88,323.46 L368.08,323.48 L368.29,323.50 L368.50,323.50" stroke="#00ff00" stroke-width="1.3" stroke-linejoin="round" stroke-dasharray="16 1.7 1.3 1.7" stroke-dashoffset="12.58"/>
<line x1="267.3" y1="323.5" x2="268.8" y2="323.5" stroke="#0000ff" stroke-width="1.3"/>
<line x1="268.8" y1="323.5" x2="273.6" y2="323.5" stroke="#ff00ff" stroke-width="1.3"/>
<line x1="273.6" y1="323.5" x2="288.6" y2="323.5" stroke="#00ff00" stroke-width="1.3"/>
<line x1="350.5" y1="323.5" x2="360" y2="323.5" stroke="#ff00ff" stroke-width="1.3"/>
<line x1="360" y1="323.5" x2="365.1" y2="323.5" stroke="#0000ff" stroke-width="1.3"/>
<line x1="368.3" y1="323.5" x2="371" y2="323.5" stroke="#00ff00" stroke-width="1.3"/>
<line x1="371" y1="323.5" x2="373.4" y2="323.5" stroke="#ff00ff" stroke-width="1.3"/>
<line x1="373.4" y1="323.5" x2="376.6" y2="323.5" stroke="#00ff00" stroke-width="1.3"/>
<line x1="376.6" y1="323.5" x2="378.9" y2="323.5" stroke="#ff00ff" stroke-width="1.3"/>
</g>
<g stroke="#000" stroke-width="1.2" fill="none">
<path d="M82.3,150.95 H412.85 V481.0 H82.3 Z"/>
<path d="M82.3,481.00 h-6.0 M82.3,471.57 h-3.2 M82.3,462.14 h-3.2 M82.3,452.71 h-3.2 M82.3,443.28 h-3.2 M82.3,433.85 h-6.0 M82.3,424.42 h-3.2 M82.3,414.99 h-3.2 M82.3,405.56 h-3.2 M82.3,396.13 h-3.2 M82.3,386.70 h-6.0 M82.3,377.27 h-3.2 M82.3,367.84 h-3.2 M82.3,358.41 h-3.2 M82.3,348.98 h-3.2 M82.3,339.55 h-6.0 M82.3,330.12 h-3.2 M82.3,320.69 h-3.2 M82.3,311.26 h-3.2 M82.3,301.83 h-3.2 M82.3,292.40 h-6.0 M82.3,282.97 h-3.2 M82.3,273.54 h-3.2 M82.3,264.11 h-3.2 M82.3,254.68 h-3.2 M82.3,245.25 h-6.0 M82.3,235.82 h-3.2 M82.3,226.39 h-3.2 M82.3,216.96 h-3.2 M82.3,207.53 h-3.2 M82.3,198.10 h-6.0 M82.3,188.67 h-3.2 M82.3,179.24 h-3.2 M82.3,169.81 h-3.2 M82.3,160.38 h-3.2 M82.3,150.95 h-6.0 M82.30,481.0 v5.5 M105.92,481.0 v3.0 M129.54,481.0 v5.5 M153.16,481.0 v3.0 M176.78,481.0 v5.5 M200.40,481.0 v3.0 M224.02,481.0 v5.5 M247.64,481.0 v3.0 M271.26,481.0 v5.5 M294.88,481.0 v3.0 M318.50,481.0 v5.5 M342.12,481.0 v3.0 M365.74,481.0 v5.5 M389.36,481.0 v3.0"/>
</g>
<path d="M82.40,301.80 L105.90,311.20 L129.40,320.60 L153.20,330.00 L176.80,339.40 L199.90,351.40 L211.80,358.20 L223.70,367.50 L235.40,377.00 L247.30,391.00 L270.70,433.60 L282.40,480.70" stroke="#0000ff" stroke-width="1.4" fill="none" stroke-dasharray="7 3.5" stroke-dashoffset="0"/>
<path d="M176.90,339.50 L200.30,348.70 L211.80,353.40 L224.00,357.80 L247.30,369.60 L270.80,386.40 L294.10,407.70 L318.10,442.90 L329.70,480.70" stroke="#ff0000" stroke-width="1.4" fill="none"/>
<path d="M79.60,301.80 L82.40,299.00 L85.20,301.80 L82.40,304.60 Z" fill="#0000ff"/>
<path d="M103.10,311.20 L105.90,308.40 L108.70,311.20 L105.90,314.00 Z" fill="#0000ff"/>
<path d="M126.60,320.60 L129.40,317.80 L132.20,320.60 L129.40,323.40 Z" fill="#0000ff"/>
<path d="M150.40,330.00 L153.20,327.20 L156.00,330.00 L153.20,332.80 Z" fill="#0000ff"/>
<path d="M174.00,339.40 L176.80,336.60 L179.60,339.40 L176.80,342.20 Z" fill="#0000ff"/>
<path d="M197.10,351.40 L199.90,348.60 L202.70,351.40 L199.90,354.20 Z" fill="#0000ff"/>
<path d="M209.00,358.20 L211.80,355.40 L214.60,358.20 L211.80,361.00 Z" fill="#0000ff"/>
<path d="M220.90,367.50 L223.70,364.70 L226.50,367.50 L223.70,370.30 Z" fill="#0000ff"/>
<path d="M232.60,377.00 L235.40,374.20 L238.20,377.00 L235.40,379.80 Z" fill="#0000ff"/>
<path d="M244.50,391.00 L247.30,388.20 L250.10,391.00 L247.30,393.80 Z" fill="#0000ff"/>
<path d="M267.90,433.60 L270.70,430.80 L273.50,433.60 L270.70,436.40 Z" fill="#0000ff"/>
<path d="M279.60,480.70 L282.40,477.90 L285.20,480.70 L282.40,483.50 Z" fill="#0000ff"/>
<circle cx="176.90" cy="339.50" r="2.3" fill="#ff0000"/>
<circle cx="200.30" cy="348.70" r="2.3" fill="#ff0000"/>
<circle cx="211.80" cy="353.40" r="2.3" fill="#ff0000"/>
<circle cx="224.00" cy="357.80" r="2.3" fill="#ff0000"/>
<circle cx="247.30" cy="369.60" r="2.3" fill="#ff0000"/>
<circle cx="270.80" cy="386.40" r="2.3" fill="#ff0000"/>
<circle cx="294.10" cy="407.70" r="2.3" fill="#ff0000"/>
<circle cx="318.10" cy="442.90" r="2.3" fill="#ff0000"/>
<circle cx="329.70" cy="480.70" r="2.3" fill="#ff0000"/>
<text x="71.5" y="486.0" font-size="12.2" text-anchor="end" fill="#000" >0.000</text>
<text x="71.5" y="438.84000000000003" font-size="12.2" text-anchor="end" fill="#000" >0.005</text>
<text x="71.5" y="391.68" font-size="12.2" text-anchor="end" fill="#000" >0.010</text>
<text x="71.5" y="344.52" font-size="12.2" text-anchor="end" fill="#000" >0.015</text>
<text x="71.5" y="297.36" font-size="12.2" text-anchor="end" fill="#000" >0.020</text>
<text x="71.5" y="250.20000000000002" font-size="12.2" text-anchor="end" fill="#000" >0.025</text>
<text x="71.5" y="203.04000000000002" font-size="12.2" text-anchor="end" fill="#000" >0.030</text>
<text x="71.5" y="155.88" font-size="12.2" text-anchor="end" fill="#000" >0.035</text>
<text x="63.3" y="503.4" font-size="12" text-anchor="start" fill="#000" textLength="38" lengthAdjust="spacingAndGlyphs">0.2274</text>
<text x="157.77999999999616" y="503.4" font-size="12" text-anchor="start" fill="#000" textLength="38" lengthAdjust="spacingAndGlyphs">0.2270</text>
<text x="252.25999999999885" y="503.4" font-size="12" text-anchor="start" fill="#000" textLength="38" lengthAdjust="spacingAndGlyphs">0.2266</text>
<text x="346.739999999995" y="503.4" font-size="12" text-anchor="start" fill="#000" textLength="38" lengthAdjust="spacingAndGlyphs">0.2262</text>
<text x="235.6" y="327.7" font-size="12" text-anchor="end" fill="#000" >0.00</text>
<text x="235.6" y="280.2142857142857" font-size="12" text-anchor="end" fill="#000" >0.04</text>
<text x="235.6" y="232.72857142857146" font-size="12" text-anchor="end" fill="#000" >0.08</text>
<text x="235.6" y="185.24285714285716" font-size="12" text-anchor="end" fill="#000" >0.12</text>
<text x="241.3" y="341.5" font-size="12" text-anchor="middle" fill="#000" >-0.82</text>
<text x="288.5714285714283" y="341.5" font-size="12" text-anchor="middle" fill="#000" >-0.80</text>
<text x="335.84285714285693" y="341.5" font-size="12" text-anchor="middle" fill="#000" >-0.78</text>
<text x="383.11428571428553" y="341.5" font-size="12" text-anchor="middle" fill="#000" >-0.76</text>
<text x="322.8" y="353.9" font-size="12" text-anchor="middle" fill="#000" >Energy</text>
<text x="205" y="240.2" font-size="12" text-anchor="middle" fill="#000" transform="rotate(-90 205 240.2)" textLength="43.6" lengthAdjust="spacingAndGlyphs">Number</text>
<text x="255.3" y="173.5" font-size="12.2" text-anchor="start" fill="#000" letter-spacing="0.16">Energy distribution, N=60</text>
<text x="265.6" y="190.3" font-size="15.8" fill="#ff0000" font-family="'Liberation Serif',serif">λ</text>
<text x="273.9" y="193.6" font-size="12" text-anchor="start" fill="#ff0000" textLength="28.7" lengthAdjust="spacingAndGlyphs">bond</text>
<text x="302.4" y="190.3" font-size="12" text-anchor="start" fill="#ff0000" textLength="45.3" lengthAdjust="spacingAndGlyphs">=0.2270</text>
<text x="315.1" y="214" font-size="12" text-anchor="start" fill="#ff00ff" textLength="45.2" lengthAdjust="spacingAndGlyphs">0.22635</text>
<text x="337.0" y="234.6" font-size="12" text-anchor="start" fill="#0000ff" textLength="38.5" lengthAdjust="spacingAndGlyphs">0.2266</text>
<text x="351.4" y="258.0" font-size="12" text-anchor="start" fill="#00ff00" textLength="38.5" lengthAdjust="spacingAndGlyphs">0.2274</text>
<text x="249.6" y="304.6" font-size="11.1" fill="#000">E<tspan dy="3.2" dx="0.3">max</tspan><tspan dy="-5.8" dx="0.0">(1)</tspan></text>
<text x="362.5" y="303.4" font-size="11.1" fill="#000">E<tspan dy="3.2" dx="0.3">max</tspan><tspan dy="-5.8" dx="0.0">(2)</tspan></text>
<line x1="265.5" y1="309.2" x2="305.8" y2="317.2" stroke="#000" stroke-width="0.9"/>
<path d="M305.80,317.20 L301.17,317.91 L301.80,314.77 Z" fill="#000"/>
<line x1="377.1" y1="308.9" x2="347.0" y2="316.75" stroke="#000" stroke-width="0.9"/>
<path d="M347.00,316.75 L350.85,314.09 L351.66,317.19 Z" fill="#000"/>
<text x="114.2" y="420.8" font-size="12" text-anchor="start" fill="#000" letter-spacing="0.07">along self-duality line</text>
<text x="278.0" y="450.6" font-size="12" text-anchor="start" fill="#0000ff" textLength="30.3" lengthAdjust="spacingAndGlyphs">N=48</text>
<text x="326.2" y="450.6" font-size="12" text-anchor="start" fill="#ff0000" textLength="30.3" lengthAdjust="spacingAndGlyphs">N=60</text>
<text x="395.3" y="503.0" font-size="20.5" fill="#000" font-family="'Liberation Serif',serif">λ</text>
<text x="404.8" y="505.7" font-size="13.8" text-anchor="start" fill="#000" textLength="31.6" lengthAdjust="spacingAndGlyphs">bond</text>
<g transform="translate(33.6 374.5) rotate(-90) scale(0.93 1)"><text x="0" y="0" font-size="14.4" fill="#000">|E<tspan dy="3.6" dx="0.4">max</tspan><tspan dy="-7.2" dx="0.8">(1)</tspan><tspan dy="3.6" dx="0"> -E</tspan><tspan dy="3.6" dx="0.4">max</tspan><tspan dy="-7.2" dx="0.8">(2)</tspan><tspan dy="3.6">|</tspan></text></g>
</svg>
</body></html>
